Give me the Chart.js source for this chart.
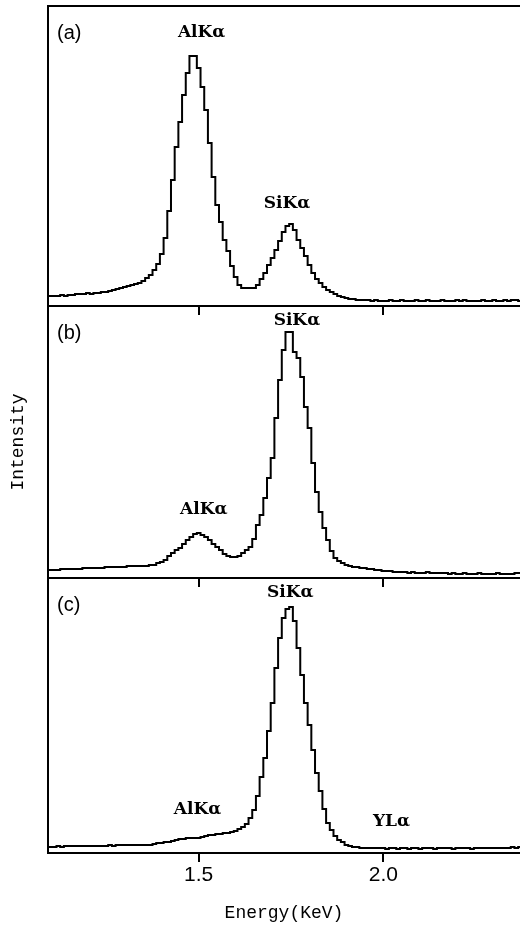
<!DOCTYPE html>
<html lang="en">
<head>
    <meta charset="UTF-8">
    <meta name="viewport" content="width=device-width, initial-scale=1.0">
    <title>EDX Spectra</title>
    <script src="https://cdn.jsdelivr.net/npm/chart.js"></script>
    <style>
        body {
            margin: 0;
            background: #ffffff;
        }
        .stack {
            position: relative;
            width: 520px;
            height: 926px;
        }
        .stack canvas {
            position: absolute;
            left: 0;
        }
    </style>
</head>
<body>
    <div class="stack">
        <canvas id="panelA" width="520" height="316" style="top:0px"></canvas>
        <canvas id="panelB" width="520" height="282" style="top:306px"></canvas>
        <canvas id="panelC" width="520" height="348" style="top:578px"></canvas>
    </div>

    <script>
        // channel energies (keV)
        const energy = [
            1.09, 1.10, 1.11, 1.12, 1.13, 1.14, 1.15, 1.16, 1.17, 1.18,
            1.19, 1.20, 1.21, 1.22, 1.23, 1.24, 1.25, 1.26, 1.27, 1.28,
            1.29, 1.30, 1.31, 1.32, 1.33, 1.34, 1.35, 1.36, 1.37, 1.38,
            1.39, 1.40, 1.41, 1.42, 1.43, 1.44, 1.45, 1.46, 1.47, 1.48,
            1.49, 1.50, 1.51, 1.52, 1.53, 1.54, 1.55, 1.56, 1.57, 1.58,
            1.59, 1.60, 1.61, 1.62, 1.63, 1.64, 1.65, 1.66, 1.67, 1.68,
            1.69, 1.70, 1.71, 1.72, 1.73, 1.74, 1.75, 1.76, 1.77, 1.78,
            1.79, 1.80, 1.81, 1.82, 1.83, 1.84, 1.85, 1.86, 1.87, 1.88,
            1.89, 1.90, 1.91, 1.92, 1.93, 1.94, 1.95, 1.96, 1.97, 1.98,
            1.99, 2.00, 2.01, 2.02, 2.03, 2.04, 2.05, 2.06, 2.07, 2.08,
            2.09, 2.10, 2.11, 2.12, 2.13, 2.14, 2.15, 2.16, 2.17, 2.18,
            2.19, 2.20, 2.21, 2.22, 2.23, 2.24, 2.25, 2.26, 2.27, 2.28,
            2.29, 2.30, 2.31, 2.32, 2.33, 2.34, 2.35, 2.36, 2.37
        ];

        // (a) counts per channel
        const countsA = [
            10, 10, 10, 10, 11, 10, 11, 11, 12, 12,
            12, 13, 12, 13, 13, 14, 14, 15, 16, 17,
            18, 19, 20, 21, 22, 23, 25, 28, 31, 36,
            42, 52, 68, 95, 126, 159, 184, 211, 233, 250,
            250, 238, 219, 196, 163, 129, 101, 84, 66, 55,
            40, 29, 21, 18, 18, 18, 18, 21, 27, 33,
            41, 48, 56, 65, 74, 80, 82, 76, 66, 58,
            50, 41, 33, 27, 23, 19, 16, 14, 12, 10,
            9, 8, 7, 7, 6, 6, 6, 6, 5, 6,
            5, 5, 5, 6, 5, 5, 6, 5, 5, 5,
            6, 5, 5, 6, 5, 5, 5, 6, 5, 5,
            5, 6, 5, 6, 5, 5, 5, 5, 6, 5,
            5, 6, 5, 5, 6, 5, 6, 6, 5
        ];

        // (b) counts per channel
        const countsB = [
            8, 8, 8, 8, 9, 9, 9, 9, 9, 9,
            10, 10, 10, 10, 10, 10, 11, 11, 11, 11,
            11, 11, 12, 12, 12, 12, 12, 12, 13, 13,
            15, 16, 18, 22, 25, 28, 30, 34, 38, 41,
            44, 45, 43, 41, 38, 34, 31, 28, 24, 22,
            21, 21, 22, 25, 28, 31, 39, 53, 63, 80,
            100, 120, 160, 198, 228, 246, 246, 226, 220, 201,
            171, 150, 115, 86, 66, 50, 38, 27, 20, 17,
            15, 13, 12, 11, 11, 10, 10, 9, 9, 8,
            8, 7, 7, 7, 6, 6, 6, 6, 5, 6,
            5, 5, 5, 6, 5, 5, 5, 5, 5, 4,
            5, 4, 4, 5, 4, 4, 4, 5, 4, 4,
            4, 4, 5, 4, 4, 4, 4, 5, 5
        ];

        // (c) counts per channel
        const countsC = [
            6, 6, 6, 7, 6, 7, 7, 7, 7, 7,
            7, 7, 7, 7, 7, 7, 7, 8, 7, 8,
            8, 8, 8, 8, 8, 8, 8, 8, 8, 9,
            10, 10, 11, 11, 12, 13, 14, 14, 15, 15,
            15, 15, 16, 17, 18, 18, 19, 19, 20, 20,
            21, 22, 24, 26, 29, 35, 43, 57, 76, 95,
            122, 150, 185, 215, 235, 244, 246, 232, 205, 178,
            150, 128, 103, 80, 62, 44, 30, 23, 17, 13,
            11, 8, 7, 6, 6, 5, 5, 5, 5, 5,
            5, 5, 4, 5, 5, 4, 5, 5, 4, 5,
            5, 4, 5, 5, 5, 4, 5, 5, 5, 5,
            4, 5, 5, 5, 5, 4, 5, 5, 5, 5,
            5, 5, 5, 5, 5, 5, 6, 5, 6
        ];

        const energyTicks = [1.5, 2.0];

        // peak annotations: [text, energy, intensity level]
        const peaksA = [['AlKα', 1.508, 273], ['SiKα', 1.739, 102]];
        const peaksB = [['SiKα', 1.766, 257], ['AlKα', 1.514, 68]];
        const peaksC = [['SiKα', 1.748, 260], ['AlKα', 1.497, 43], ['YLα', 2.022, 31]];

        function textPlugin(letter, peaks, topBorder) {
            return {
                id: 'panelText',
                afterDatasetsDraw(chart) {
                    const { ctx, chartArea, scales } = chart;
                    ctx.save();
                    ctx.fillStyle = '#000';
                    ctx.strokeStyle = '#000';
                    if (topBorder) {
                        ctx.lineWidth = 2;
                        ctx.beginPath();
                        ctx.moveTo(chartArea.left - 1, chartArea.top);
                        ctx.lineTo(chartArea.right, chartArea.top);
                        ctx.stroke();
                    }
                    ctx.font = '20px "Liberation Sans"';
                    ctx.textAlign = 'left';
                    ctx.textBaseline = 'middle';
                    ctx.fillText(letter, chartArea.left + 9, chartArea.top + 27);

                    ctx.font = 'bold 17px "DejaVu Serif"';
                    ctx.textAlign = 'center';
                    peaks.forEach(([text, e, level]) => {
                        ctx.fillText(text, scales.x.getPixelForValue(e), scales.y.getPixelForValue(level));
                    });
                    ctx.restore();
                }
            };
        }

        function makePanel(id, counts, yMax, letter, peaks, extra) {
            new Chart(document.getElementById(id), {
                type: 'line',
                data: {
                    datasets: [{
                        data: energy.map((e, i) => ({ x: e, y: counts[i] })),
                        stepped: 'middle',
                        borderColor: '#000',
                        borderWidth: 2,
                        pointRadius: 0,
                        fill: false
                    }]
                },
                options: {
                    responsive: false,
                    animation: false,
                    layout: { padding: { top: extra.padTop, left: 0, right: 0, bottom: 0 } },
                    plugins: {
                        legend: { display: false },
                        tooltip: { enabled: false }
                    },
                    scales: {
                        x: {
                            type: 'linear',
                            min: 1.092,
                            max: 2.37,
                            afterBuildTicks: s => { s.ticks = energyTicks.map(v => ({ value: v })); },
                            afterFit: s => { s.height = extra.axisHeight; },
                            grid: {
                                drawOnChartArea: false,
                                drawTicks: true,
                                tickLength: 9,
                                color: '#000',
                                lineWidth: 2
                            },
                            border: { display: true, color: '#000', width: 2 },
                            ticks: {
                                display: extra.showLabels,
                                padding: 1,
                                color: '#000',
                                font: { family: 'Liberation Sans', size: 21 },
                                callback: v => v.toFixed(1)
                            },
                            title: {
                                display: !!extra.xTitle,
                                text: extra.xTitle || '',
                                color: '#000',
                                font: { family: 'Liberation Mono', size: 18 },
                                padding: { top: 0, bottom: 2 }
                            }
                        },
                        y: {
                            min: 0,
                            max: yMax,
                            afterFit: s => { s.width = 48; },
                            ticks: { display: false },
                            grid: { display: false, drawTicks: false },
                            border: { display: true, color: '#000', width: 2 },
                            title: {
                                display: !!extra.yTitle,
                                text: extra.yTitle || '',
                                color: '#000',
                                font: { family: 'Liberation Mono', size: 18 },
                                padding: { top: 7, bottom: 0 }
                            }
                        }
                    }
                },
                plugins: [textPlugin(letter, peaks, extra.topBorder)]
            });
        }

        makePanel('panelA', countsA, 300, '(a)', peaksA,
            { padTop: 6, axisHeight: 10, showLabels: false, topBorder: true });
        makePanel('panelB', countsB, 272, '(b)', peaksB,
            { padTop: 0, axisHeight: 10, showLabels: false, yTitle: 'Intensity' });
        makePanel('panelC', countsC, 275, '(c)', peaksC,
            { padTop: 0, axisHeight: 73, showLabels: true, xTitle: 'Energy(KeV)' });
    </script>
</body>
</html>
